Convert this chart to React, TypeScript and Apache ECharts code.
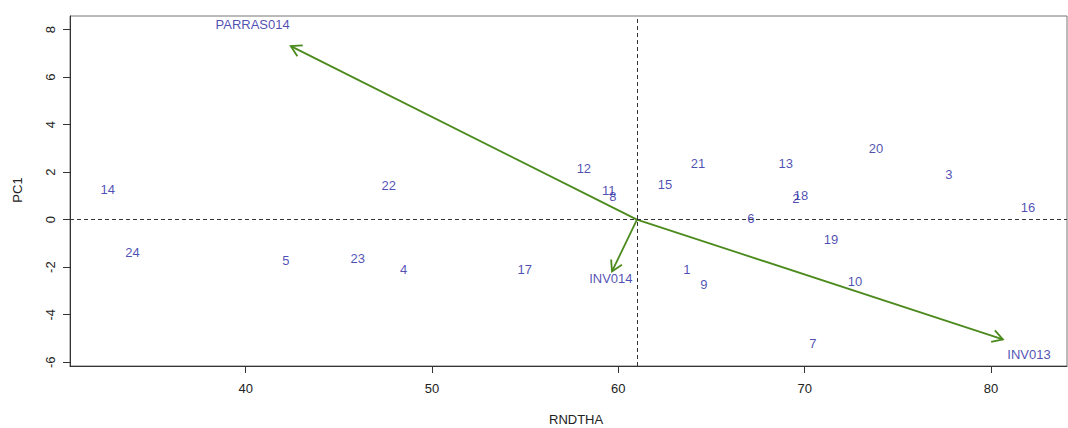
import React, { useEffect, useRef } from "react";
import * as echarts from "echarts";

const pointNames = ["1","2","3","4","5","6","7","8","9","10","11","12","13","14","15","16","17","18","19","20","21","22","23","24"];
const pointX = [63.68, 69.53, 77.74, 48.48, 42.15, 67.11, 70.44, 59.70, 64.59, 72.70, 59.49, 58.15, 68.99, 32.59, 62.50, 81.99, 54.98, 69.80, 71.41, 73.83, 64.27, 47.68, 46.01, 33.93];
const pointY = [-2.09, 0.90, 1.91, -2.09, -1.71, 0.05, -5.21, 0.98, -2.72, -2.60, 1.23, 2.16, 2.37, 1.28, 1.49, 0.52, -2.09, 1.02, -0.83, 3.00, 2.37, 1.44, -1.63, -1.38];

const varNames = ["PARRAS014", "INV013", "INV014"];
const arrowEndX = [42.42, 80.64, 59.66];
const arrowEndY = [7.30, -5.04, -2.18];
const varLabelX = [40.37, 82.04, 59.60];
const varLabelY = [8.22, -5.67, -2.47];
const originX = 61;
const originY = 0;

const xTicks = [40, 50, 60, 70, 80];
const yTicks = [-6, -4, -2, 0, 2, 4, 6, 8];

const BLUE = "#1e1ea0";
const GREEN = "#4b8a1c";
const FONT = "Liberation Sans, Arial, sans-serif";

export default function App() {
  const ref = useRef<HTMLDivElement>(null);
  useEffect(() => {
    document.body.style.margin = "0";
    const chart = echarts.init(ref.current!, null, { renderer: "svg" });
    const arrowData = arrowEndX.map((x, i) => [originX, originY, x, arrowEndY[i]]);
    const labelStyle = { show: true, position: "inside", formatter: "{b}", color: BLUE, fontSize: 13, fontFamily: FONT, textBorderWidth: 0, textBorderColor: "transparent" };
    chart.setOption({
      animation: false,
      backgroundColor: "#ffffff",
      grid: { left: 70, top: 16, right: 1, bottom: 62, show: true, borderColor: "#777", borderWidth: 1 },
      xAxis: {
        type: "value",
        min: 30.57,
        max: 84.08,
        axisLine: { show: true, onZero: false, lineStyle: { color: "#333" } },
        axisTick: { show: true, customValues: xTicks, length: 7, lineStyle: { color: "#333" } },
        axisLabel: { customValues: xTicks, color: "#222", fontSize: 13, fontFamily: FONT, margin: 16 },
        splitLine: { show: false },
      },
      yAxis: {
        type: "value",
        min: -6.16,
        max: 8.57,
        axisLine: { show: true, onZero: false, lineStyle: { color: "#333" } },
        axisTick: { show: true, customValues: yTicks, length: 7, lineStyle: { color: "#333" } },
        axisLabel: { customValues: yTicks, rotate: 90, color: "#222", fontSize: 13, fontFamily: FONT, margin: 13 },
        splitLine: { show: false },
      },
      graphic: [
        { type: "text", left: 575 - 26, top: 413, style: { text: "RNDTHA", fill: "#222", font: "13px " + FONT } },
        { type: "text", x: 17, y: 190, rotation: Math.PI / 2, style: { text: "PC1", fill: "#222", font: "13px " + FONT, textAlign: "center", textVerticalAlign: "middle" } },
      ],
      series: [
        {
          type: "scatter",
          symbolSize: 1,
          itemStyle: { color: "rgba(0,0,0,0)" },
          data: pointNames.map((n, i) => ({ name: n, value: [pointX[i], pointY[i]] })),
          label: labelStyle,
          markLine: {
            silent: true,
            symbol: "none",
            label: { show: false },
            lineStyle: { color: "#333", type: [4, 3], width: 1 },
            data: [{ xAxis: originX }, { yAxis: originY }],
          },
          z: 3,
        },
        {
          type: "custom",
          data: arrowData,
          encode: { x: [0, 2], y: [1, 3] },
          renderItem: (params: any, api: any) => {
            const p0 = api.coord([api.value(0), api.value(1)]);
            const p1 = api.coord([api.value(2), api.value(3)]);
            const ang = Math.atan2(p1[1] - p0[1], p1[0] - p0[0]);
            const L = 12;
            const a = Math.PI / 6;
            const h1 = [p1[0] - L * Math.cos(ang - a), p1[1] - L * Math.sin(ang - a)];
            const h2 = [p1[0] - L * Math.cos(ang + a), p1[1] - L * Math.sin(ang + a)];
            return {
              type: "group",
              children: [
                { type: "line", shape: { x1: p0[0], y1: p0[1], x2: p1[0], y2: p1[1] }, style: { stroke: GREEN, lineWidth: 1.8 } },
                { type: "polyline", shape: { points: [h1, p1, h2] }, style: { stroke: GREEN, lineWidth: 1.8, fill: null } },
              ],
            };
          },
          z: 4,
        },
        {
          type: "scatter",
          symbolSize: 1,
          itemStyle: { color: "rgba(0,0,0,0)" },
          data: varNames.map((n, i) => ({ name: n, value: [varLabelX[i], varLabelY[i]] })),
          label: labelStyle,
          z: 5,
        },
      ],
    });
    return () => chart.dispose();
  }, []);
  return <div ref={ref} style={{ width: 1068, height: 428 }} />;
}
